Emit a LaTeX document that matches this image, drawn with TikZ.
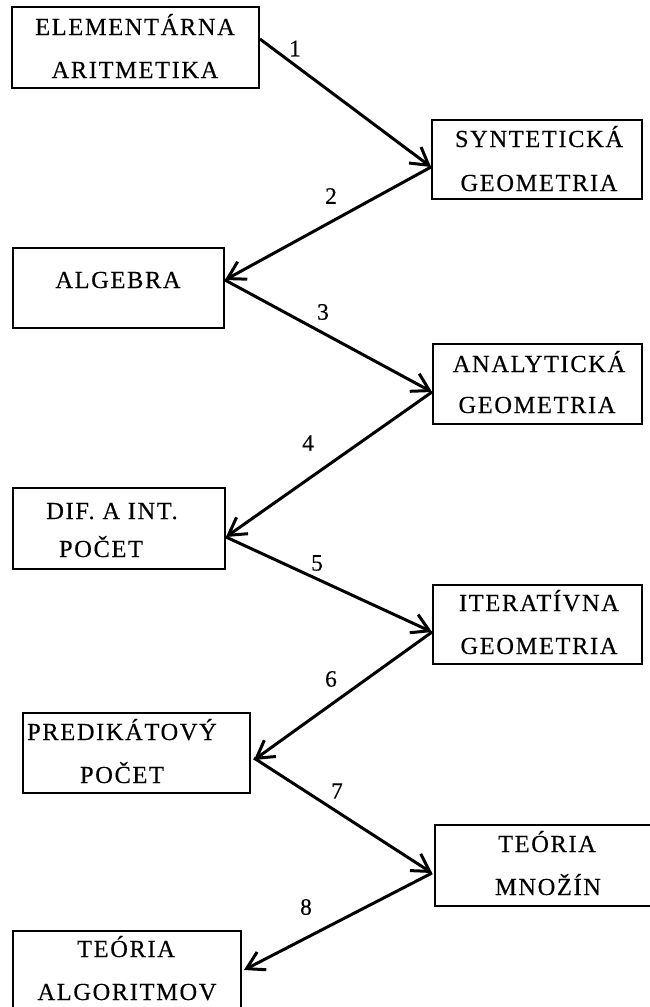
\documentclass[tikz,border=0pt]{standalone}
\usepackage{fontspec}
\usetikzlibrary{arrows.meta}
\newfontfamily\boxfont{Liberation Serif}[LetterSpace=6.5,FakeBold=0.3]
\tikzset{
  box/.style={draw=black, line width=1.9pt, rectangle, inner sep=0pt},
  line/.style={font=\boxfont\fontsize{24.5pt}{28pt}\selectfont, anchor=base, inner sep=0pt},
  num/.style={font=\boxfont\fontsize{23.5pt}{27pt}\selectfont, anchor=center, inner sep=0pt},
  arr/.style={line width=3pt, -{Straight Barb[length=17pt,width=20pt]}},
}
\begin{document}
\begin{tikzpicture}[x=1pt,y=-1pt]
\useasboundingbox (0,0) rectangle (650,1007);
\fill[white] (0,0) rectangle (650,1007);

% boxes
\node[box, minimum width=247pt, minimum height=81pt] (b1) at (135.5,47.5) {};
\node[box, minimum width=210pt, minimum height=79pt] (b2) at (537,159.5) {};
\node[box, minimum width=211pt, minimum height=80pt] (b3) at (118.5,288) {};
\node[box, minimum width=209pt, minimum height=80pt] (b4) at (537.5,384) {};
\node[box, minimum width=212pt, minimum height=81pt] (b5) at (119,528.5) {};
\node[box, minimum width=209pt, minimum height=79pt] (b6) at (537.5,624.5) {};
\node[box, minimum width=227pt, minimum height=80pt] (b7) at (136.5,753) {};
\node[box, minimum width=225pt, minimum height=81pt] (b8) at (547.5,865.5) {};
\node[box, minimum width=228pt, minimum height=80pt] (b9) at (127,971) {};

% texts
\node[line] (t1a) at (135,35) {ELEMENTÁRNA};
\node[line] (t1b) at (135,78) {ARITMETIKA};
\node[line] (t2a) at (539,147) {SYNTETICKÁ};
\node[line] (t2b) at (539,191) {GEOMETRIA};
\node[line] (t3a) at (118,288) {ALGEBRA};
\node[line] (t4a) at (539,372) {ANALYTICKÁ};
\node[line] (t4b) at (537,413) {GEOMETRIA};
\node[line] (t5a) at (112,519) {DIF. A INT.};
\node[line] (t5b) at (101,557) {POČET};
\node[line] (t6a) at (539,611) {ITERATÍVNA};
\node[line] (t6b) at (539,654) {GEOMETRIA};
\node[line] (t7a) at (122,740) {PREDIKÁTOVÝ};
\node[line] (t7b) at (122,783) {POČET};
\node[line] (t8a) at (547,852) {TEÓRIA};
\node[line] (t8b) at (548,895) {MNOŽÍN};
\node[line] (t9a) at (126,957) {TEÓRIA};
\node[line] (t9b) at (127,1000) {ALGORITMOV};

% arrows
\draw[arr] ([yshift=8.5pt]b1.east) -- ([yshift=-7.5pt]b2.west);
\draw[arr] ([yshift=-7.5pt]b2.west) -- ([yshift=8pt]b3.east);
\draw[arr] ([yshift=8pt]b3.east) -- ([yshift=-8pt]b4.west);
\draw[arr] ([yshift=-8pt]b4.west) -- ([yshift=-8.5pt]b5.east);
\draw[arr] ([yshift=-8.5pt]b5.east) -- ([yshift=-7.5pt]b6.west);
\draw[arr] ([yshift=-7.5pt]b6.west) -- ([xshift=3pt,yshift=-7pt]b7.east);
\draw[arr] ([xshift=3pt,yshift=-5pt]b7.east) -- ([xshift=-2pt,yshift=-7.5pt]b8.west);
\draw[arr] ([xshift=-2pt,yshift=-7.5pt]b8.west) -- ([xshift=2pt,yshift=1pt]b9.east);

% numbers
\node[num] (n1) at (295,48.5) {1};
\node[num] (n2) at (331,196) {2};
\node[num] (n3) at (323,312) {3};
\node[num] (n4) at (308,443) {4};
\node[num] (n5) at (317,563) {5};
\node[num] (n6) at (331,679) {6};
\node[num] (n7) at (337,791) {7};
\node[num] (n8) at (306,907) {8};
\end{tikzpicture}
\end{document}
